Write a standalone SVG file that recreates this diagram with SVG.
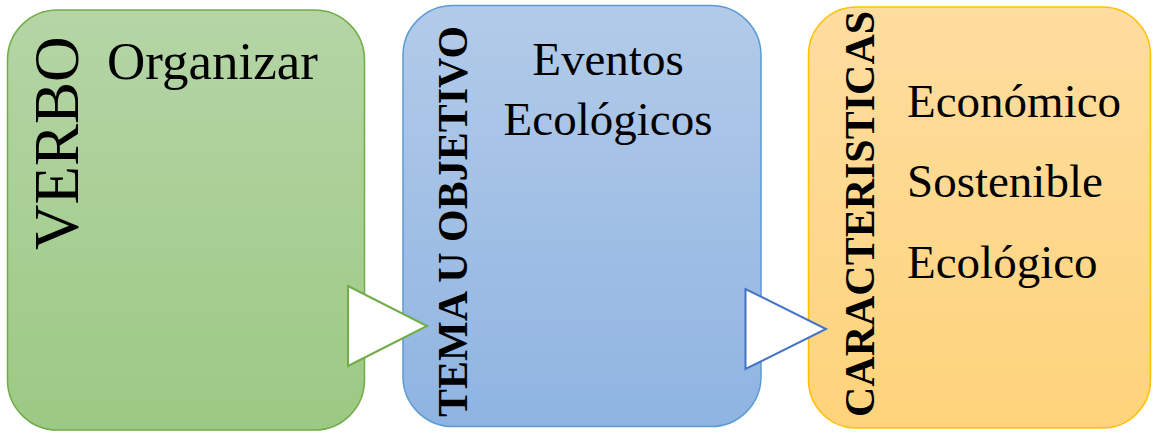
<svg xmlns="http://www.w3.org/2000/svg" width="1152" height="434" viewBox="0 0 1152 434">
<defs>
<linearGradient id="gGreen" x1="0" y1="0" x2="0" y2="1"><stop offset="0" stop-color="#b5d5a6"/><stop offset="1" stop-color="#9cc984"/></linearGradient>
<linearGradient id="gBlue" x1="0" y1="0" x2="0" y2="1"><stop offset="0" stop-color="#b3cbe9"/><stop offset="1" stop-color="#8fb4e1"/></linearGradient>
<linearGradient id="gOrange" x1="0" y1="0" x2="0" y2="1"><stop offset="0" stop-color="#fedda0"/><stop offset="1" stop-color="#fed37b"/></linearGradient>
</defs>
<style>
.serif{font-family:"Liberation Serif","Times New Roman",serif;fill:#000}
.big{font-size:63px}
.body{font-size:47px}
.vert{font-size:42px;font-weight:bold}
.tri{fill:#fff;stroke-width:2}
</style>
<g id="node-verbo">
<rect x="7.5" y="10" width="357" height="420" rx="50" ry="50" fill="url(#gGreen)" stroke="#70ad47" stroke-width="1.5"/>
<text class="serif big" transform="translate(78,250) rotate(-90)">VERBO</text>
<text class="serif" font-size="53" x="107" y="79">Organizar</text>
</g>
<g id="node-tema">
<rect x="403" y="5.5" width="358" height="421" rx="50" ry="50" fill="url(#gBlue)" stroke="#5b9bd5" stroke-width="1.5"/>
<text class="serif vert" transform="translate(467,417) rotate(-90)">TEMA U OBJETIVO</text>
<text class="serif body" x="608" y="75" text-anchor="middle">Eventos</text>
<text class="serif body" x="608" y="135" text-anchor="middle">Ecológicos</text>
</g>
<g id="node-caracteristicas">
<rect x="808.5" y="7" width="342" height="421" rx="48" ry="48" fill="url(#gOrange)" stroke="#ffc000" stroke-width="1.5"/>
<text class="serif vert" transform="translate(874,417) rotate(-90)">CARACTERISTICAS</text>
<text class="serif body" x="907" y="117">Económico</text>
<text class="serif body" x="907" y="197">Sostenible</text>
<text class="serif body" x="907" y="278">Ecológico</text>
</g>
<g id="connectors">
<polygon class="tri" points="348,286 348,366 427,326" stroke="#70ad47"/>
<polygon class="tri" points="745.5,289 745.5,369 826,329" stroke="#4472c4"/>
</g>
</svg>
